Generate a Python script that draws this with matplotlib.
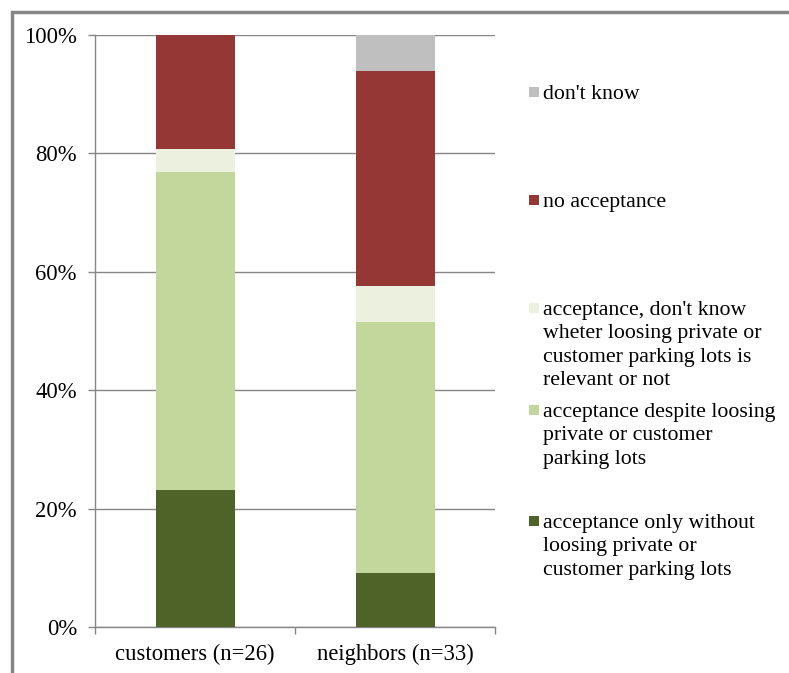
import matplotlib
matplotlib.use("Agg")
import matplotlib.pyplot as plt
from matplotlib.patches import Rectangle
import numpy as np

categories = ["customers (n=26)", "neighbors (n=33)"]
series_names = [
    "acceptance only without\nloosing private or\ncustomer parking lots",
    "acceptance despite loosing\nprivate or customer\nparking lots",
    "acceptance, don't know\nwheter loosing private or\ncustomer parking lots is\nrelevant or not",
    "no acceptance",
    "don't know",
]
counts_customers = [6, 14, 1, 5, 0]
counts_neighbors = [3, 14, 2, 12, 2]
colors = ["#4F6228", "#C3D69B", "#EBF1DE", "#953735", "#BFBFBF"]
yticks = [0, 20, 40, 60, 80, 100]

W, H = 789, 673
fig = plt.figure(figsize=(W / 100, H / 100), dpi=100)
plt.rcParams['font.family'] = ['Liberation Serif', 'DejaVu Serif']

ax = fig.add_axes([95 / W, (H - 627) / H, 400 / W, 592 / H])

data = np.array([counts_customers, counts_neighbors], dtype=float)
pct = data / data.sum(axis=1, keepdims=True) * 100
x = np.arange(len(categories))
bottom = np.zeros(len(categories))
for i, name in enumerate(series_names):
    ax.bar(x, pct[:, i], bottom=bottom, width=0.395, color=colors[i],
           edgecolor='none', zorder=3)
    bottom += pct[:, i]

ax.set_xlim(-0.5, 1.5)
ax.set_ylim(0, 100)
ax.set_yticks(yticks)
ax.set_yticklabels([f"{v}%" for v in yticks], fontsize=16.3)
ax.yaxis.grid(True, color='#868686', linewidth=1.0, zorder=0)
ax.set_axisbelow(True)
ax.set_xticks(x)
ax.set_xticklabels(categories, fontsize=16.3)
ax.set_xticks([-0.5, 0.5, 1.5], minor=True)
ax.tick_params(axis='x', which='major', length=0, pad=12)
ax.tick_params(axis='x', which='minor', length=5, color='#868686', width=1)
ax.tick_params(axis='y', length=5, color='#868686', width=1, pad=8)
for s in ['top', 'right']:
    ax.spines[s].set_visible(False)
for s in ['left', 'bottom']:
    ax.spines[s].set_color('#868686')
    ax.spines[s].set_linewidth(1.0)

# Legend (manual, reversed order like the original)
legend_pos = [520, 409, 307, 199, 91]  # y pixel of square center
for i, name in enumerate(series_names):
    yc = legend_pos[i]
    fig.patches.append(Rectangle((529 / W, 1 - (yc + 5.5) / H), 10 / W, 10 / H,
                                 transform=fig.transFigure, facecolor=colors[i],
                                 edgecolor='none'))
    fig.text(543 / W, 1 - (yc - 6) / H, name, fontsize=15.7, va='top', ha='left',
             linespacing=1.31)

# outer frame
fig.patches.append(Rectangle((11.5 / W, -0.1), 1.2, 1 - 11.5 / H + 0.1,
                             transform=fig.transFigure, facecolor='none',
                             edgecolor='#868686', linewidth=2.5))

fig.savefig("out.png", dpi=100)
